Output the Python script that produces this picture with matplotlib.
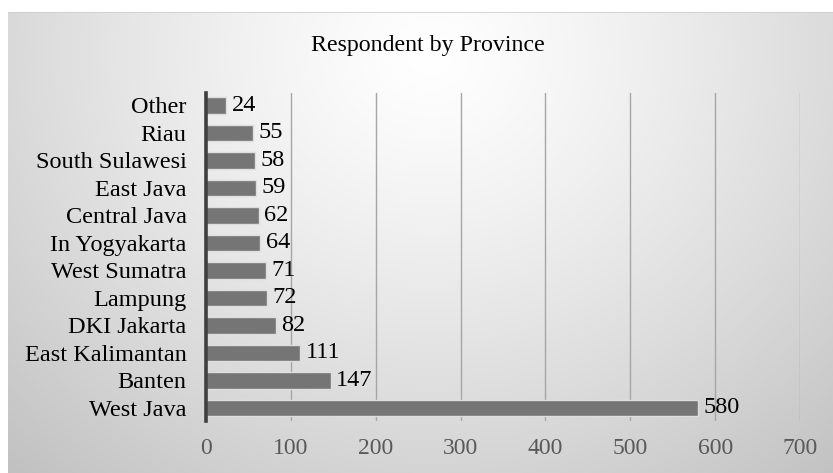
import numpy as np
import matplotlib
matplotlib.use("Agg")
import matplotlib.pyplot as plt

provinces = ["West Java", "Banten", "East Kalimantan", "DKI Jakarta", "Lampung",
             "West Sumatra", "In Yogyakarta", "Central Java", "East Java",
             "South Sulawesi", "Riau", "Other"]
respondents = [580, 147, 111, 82, 72, 71, 64, 62, 59, 58, 55, 24]
x_ticks = [0, 100, 200, 300, 400, 500, 600, 700]

plt.rcParams["font.family"] = ["Liberation Serif", "DejaVu Serif"]

W, H = 833, 473
fig = plt.figure(figsize=(W / 100, H / 100), dpi=100)
fig.patch.set_facecolor("white")

# chart area with soft radial shading
x0, ytop = 8, 12
bg = fig.add_axes([x0 / W, 0, 1 - x0 / W, 1 - ytop / H], zorder=-5)
gw, gh = W - x0, H - ytop
yy, xx = np.mgrid[0:gh, 0:gw]
r = np.sqrt(((xx + x0 - 430) / 470.0) ** 2 + ((yy + ytop - 55) / 420.0) ** 2)
shade = 1.0 - 0.17 * r ** 1.25
shade = np.clip(shade, 0.72, 1.0)
bg.imshow(np.dstack([shade] * 3), aspect="auto", extent=(0, gw, gh, 0))
bg.axhline(0.5, color="#cfcfcf", lw=1.2)
bg.set_xlim(0, gw)
bg.set_ylim(gh, 0)
bg.axis("off")

ax = fig.add_axes([206 / W, 1 - 421 / H, (800 - 206) / W, (421 - 93) / H])
ax.set_facecolor("none")

ypos = np.arange(len(provinces))
ax.barh(ypos, respondents, height=0.6, color="#757575",
        edgecolor="#dedede", linewidth=1.0, zorder=3)
for y, v in zip(ypos, respondents):
    ax.annotate(str(v), (v, y), xytext=(4, 0), textcoords="offset points",
                ha="left", va="center", fontsize=17.5, color="black", zorder=4)

ax.set_xlim(0, 700)
ax.set_ylim(-0.48, len(provinces) - 0.55)
ax.set_xticks(x_ticks)
ax.set_xticklabels([str(t) for t in x_ticks])
ax.set_yticks(ypos)
ax.set_yticklabels(provinces)

for t in x_ticks[1:]:
    ax.axvline(t, color="#a6a6a6", lw=1.0, zorder=1)

for s in ["top", "right", "bottom"]:
    ax.spines[s].set_visible(False)
ax.spines["left"].set_color("#3f3f3f")
ax.spines["left"].set_linewidth(2.6)
ax.spines["left"].set_zorder(5)

ax.tick_params(axis="x", length=0, pad=12, labelsize=17, labelcolor="#595959")
ax.tick_params(axis="y", length=0, pad=14, labelsize=17.5, labelcolor="black")

fig.text(428 / W, 1 - 46 / H, "Respondent by Province", ha="center", va="center",
         fontsize=17.2, color="black")

fig.savefig("out.png", dpi=100)
